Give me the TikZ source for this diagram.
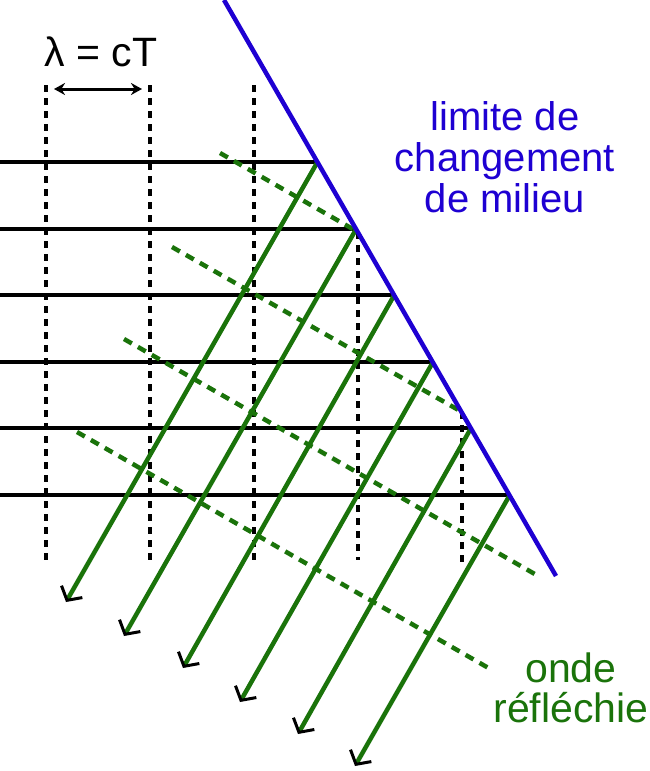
\documentclass[tikz,border=0pt]{standalone}
\usepackage{fontspec}
\setmainfont{Liberation Sans}
\usetikzlibrary{arrows.meta}
\definecolor{bordblue}{RGB}{30,0,210}
\definecolor{refgreen}{RGB}{26,115,10}
\tikzset{
  incident/.style={black,line width=4pt},
  wavefront/.style={black,line width=4.5pt,dash pattern=on 7pt off 6pt},
  reflray/.style={refgreen,line width=4.5pt,-{Straight Barb[length=10pt,width=24pt,line width=3pt,black]}},
  reflfront/.style={refgreen,line width=4.5pt,dash pattern=on 9pt off 7pt},
  boundary/.style={bordblue,line width=4.5pt},
  lbl/.style={inner sep=0pt,font=\fontsize{40}{41}\selectfont,align=center}
}
\begin{document}
\begin{tikzpicture}[x=1pt,y=-1pt]
\useasboundingbox (0,0) rectangle (649,771);
% boundary end points
\coordinate (Btop) at (224,0);
\coordinate (Bbot) at (556,576);
% impact points on the boundary
\coordinate (B0) at (317.5,162);
\coordinate (B1) at (356.2,229);
\coordinate (B2) at (394.3,295);
\coordinate (B3) at (433.0,362);
\coordinate (B4) at (471.1,428);
\coordinate (B5) at (509.8,495);
% left ends of incident rays
\coordinate (L0) at (0,162);
\coordinate (L1) at (0,229);
\coordinate (L2) at (0,295);
\coordinate (L3) at (0,362);
\coordinate (L4) at (0,428);
\coordinate (L5) at (0,495);
% tips of reflected rays
\coordinate (T0) at (66,602);
\coordinate (T1) at (124,636);
\coordinate (T2) at (183,668);
\coordinate (T3) at (240,702);
\coordinate (T4) at (298,734);
\coordinate (T5) at (355,766);
% incident wavefronts
\coordinate (V0a) at (46,85);  \coordinate (V0b) at (46,560);
\coordinate (V1a) at (150,85); \coordinate (V1b) at (150,560);
\coordinate (V2a) at (254,85); \coordinate (V2b) at (254,560);
\coordinate (V3a) at (358,232); \coordinate (V3b) at (358,560);
\coordinate (V4a) at (462,412); \coordinate (V4b) at (462,564);
% reflected wavefronts
\coordinate (R0a) at (220,153); \coordinate (R0b) at (358,232);
\coordinate (R1a) at (172,247); \coordinate (R1b) at (462,412);
\coordinate (R2a) at (124,339); \coordinate (R2b) at (540,577);
\coordinate (R3a) at (77,432);  \coordinate (R3b) at (492,670);
% lambda arrow ends
\coordinate (Aa) at (54,89);
\coordinate (Ab) at (142,89);

\foreach \i in {0,...,5} \draw[incident] (L\i) -- (B\i);
\foreach \i in {0,...,4} \draw[wavefront] (V\i a) -- (V\i b);
\foreach \i in {0,...,3} \draw[reflfront] (R\i a) -- (R\i b);
\foreach \i in {0,...,5} \draw[reflray] (B\i) -- (T\i);
\draw[boundary] (Btop) -- (Bbot);
\draw[black,line width=3pt,{Stealth[length=11pt,width=12pt]}-{Stealth[length=11pt,width=12pt]}] (Aa) -- (Ab);

\node[lbl,anchor=base,font=\fontsize{41}{41}\selectfont] (lam) at (101,66) {λ = cT};
\node[lbl,anchor=north,text=bordblue] (lim) at (505,101) {limite de\\changement\\de milieu};
\node[lbl,anchor=north,text=refgreen,font=\fontsize{41}{40}\selectfont] (onde) at (571,653) {onde\\réfléchie};
\end{tikzpicture}
\end{document}
